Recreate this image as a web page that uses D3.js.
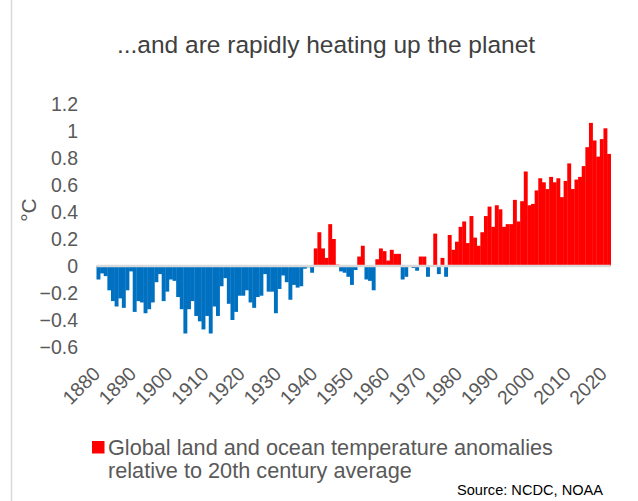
<!DOCTYPE html>
<html>
<head>
<meta charset="utf-8">
<script src="https://cdn.jsdelivr.net/npm/d3@7"></script>
<style>
  html, body { margin: 0; padding: 0; background: #fff; }
  svg { display: block; font-family: "Liberation Sans", Arial, sans-serif; }
</style>
</head>
<body>
<svg id="chart" width="638" height="501"></svg>
<script>
// ---- data ----
const years = d3.range(1880, 2022);
const anomalies = [
  -0.10, -0.055, -0.075, -0.18, -0.26, -0.30, -0.24, -0.31, -0.18, -0.04,   // 1880s
  -0.34, -0.26, -0.27, -0.35, -0.32, -0.27, -0.12, -0.06, -0.26, -0.19,     // 1890s
  -0.10, -0.11, -0.23, -0.32, -0.50, -0.32, -0.26, -0.37, -0.41, -0.47,     // 1900s
  -0.37, -0.50, -0.30, -0.37, -0.15, -0.09, -0.28, -0.40, -0.34, -0.22,     // 1910s
  -0.22, -0.18, -0.27, -0.31, -0.23, -0.22, -0.06, -0.19, -0.19, -0.35,     // 1920s
  -0.17, -0.07, -0.12, -0.25, -0.14, -0.16, -0.15, -0.02, -0.01, -0.05,     // 1930s
  0.13, 0.25, 0.13, 0.06, 0.31, 0.20, 0.01, -0.04, -0.05, -0.08,            // 1940s
  -0.14, -0.03, 0.07, 0.15, -0.10, -0.11, -0.18, 0.05, 0.13, 0.11,          // 1950s
  0.04, 0.12, 0.09, 0.09, -0.10, -0.08, -0.005, -0.015, -0.035, 0.07,       // 1960s
  0.07, -0.08, 0.005, 0.24, -0.06, 0.06, -0.08, 0.23, 0.12, 0.18,           // 1970s
  0.29, 0.33, 0.17, 0.37, 0.21, 0.15, 0.25, 0.37, 0.44, 0.29,               // 1980s
  0.45, 0.42, 0.29, 0.31, 0.31, 0.49, 0.33, 0.48, 0.70, 0.45,               // 1990s
  0.46, 0.56, 0.65, 0.62, 0.57, 0.66, 0.62, 0.65, 0.51, 0.63,               // 2000s
  0.76, 0.57, 0.64, 0.66, 0.74, 0.88, 1.06, 0.93, 0.81, 0.94,               // 2010s
  1.02, 0.83                                                                // 2020s
];
const yTicks = [-0.6, -0.4, -0.2, 0, 0.2, 0.4, 0.6, 0.8, 1, 1.2];
const xTickYears = [1880, 1890, 1900, 1910, 1920, 1930, 1940, 1950, 1960, 1970, 1980, 1990, 2000, 2010, 2020];
const titleText = "...and are rapidly heating up the planet";
const yLabel = "°C";
const legendLines = ["Global land and ocean temperature anomalies", "relative to 20th century average"];
const sourceText = "Source: NCDC, NOAA";

const data = years.map((yr, i) => ({ year: yr, value: anomalies[i] }));

// ---- layout ----
const svg = d3.select("#chart");
const x = d3.scaleBand().domain(years).range([96.5, 610.7]).padding(0);
const y = d3.scaleLinear().domain([-0.6, 1.2]).range([347, 104]);

// left frame line
svg.append("line")
  .attr("x1", 11.5).attr("x2", 11.5).attr("y1", 0).attr("y2", 501)
  .attr("stroke", "#d9d9d9").attr("stroke-width", 1.5);

// title
svg.append("text")
  .attr("x", 326).attr("y", 53)
  .attr("text-anchor", "middle")
  .attr("font-size", 24.5)
  .attr("fill", "#404040")
  .text(titleText);

// bars
svg.append("g").selectAll("rect")
  .data(data)
  .join("rect")
  .attr("x", d => x(d.year))
  .attr("width", x.bandwidth() + 0.3)
  .attr("y", d => y(Math.max(0, d.value)))
  .attr("height", d => Math.abs(y(d.value) - y(0)))
  .attr("fill", d => d.value >= 0 ? "#ff0000" : "#0070c0");

// zero axis line
svg.append("line")
  .attr("x1", x.range()[0]).attr("x2", x.range()[1])
  .attr("y1", y(0)).attr("y2", y(0))
  .attr("stroke", "#d9d9d9").attr("stroke-width", 2.5);

// y axis (labels only)
const yAxis = d3.axisLeft(y).tickValues(yTicks).tickSize(0).tickPadding(0)
  .tickFormat(d => d3.format("")(Math.round(d * 10) / 10));
const gy = svg.append("g").attr("transform", "translate(78,0)").call(yAxis);
gy.select(".domain").remove();
gy.selectAll("text")
  .attr("font-size", 19.5)
  .attr("font-family", "Liberation Sans, Arial, sans-serif")
  .attr("fill", "#595959");

// y label
svg.append("text")
  .attr("transform", "translate(36,210) rotate(-90)")
  .attr("text-anchor", "middle")
  .attr("font-size", 21)
  .attr("fill", "#595959")
  .text(yLabel);

// x axis labels
const xAxis = d3.axisBottom(x).tickValues(xTickYears).tickSize(0).tickPadding(0);
const gx = svg.append("g").attr("transform", "translate(0,0)").call(xAxis);
gx.select(".domain").remove();
gx.selectAll(".tick text")
  .attr("font-size", 19.5)
  .attr("font-family", "Liberation Sans, Arial, sans-serif")
  .attr("fill", "#595959")
  .attr("text-anchor", "end")
  .attr("dy", null)
  .attr("y", null)
  .attr("transform", "translate(3,375) rotate(-45)");

// legend
const lg = svg.append("g");
lg.append("rect")
  .attr("x", 92).attr("y", 441).attr("width", 12.5).attr("height", 12.5)
  .attr("fill", "#ff0000");
legendLines.forEach((t, i) => {
  lg.append("text")
    .attr("x", 108).attr("y", 455 + i * 23)
    .attr("font-size", 21.7)
    .attr("fill", "#595959")
    .text(t);
});

// source
svg.append("text")
  .attr("x", 603).attr("y", 495)
  .attr("text-anchor", "end")
  .attr("font-size", 14.6)
  .attr("fill", "#000")
  .text(sourceText);
</script>
</body>
</html>
